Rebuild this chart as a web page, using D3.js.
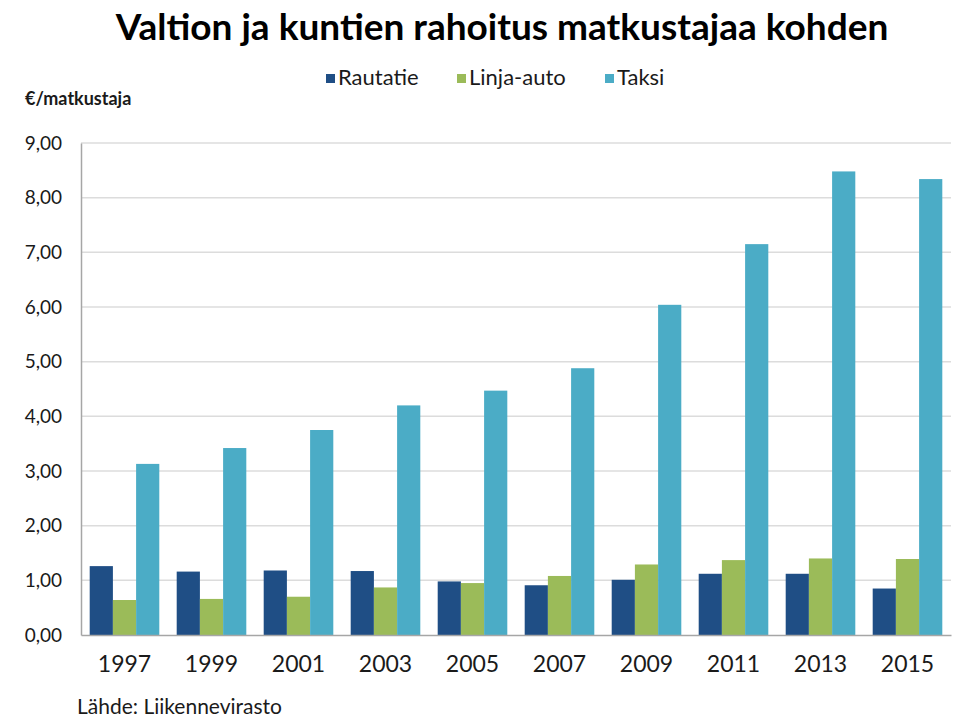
<!DOCTYPE html>
<html>
<head>
<meta charset="utf-8">
<script src="https://cdn.jsdelivr.net/npm/d3@7"></script>
<style>
  body { margin: 0; background: #fff; }
  svg text { font-family: Lato, "Open Sans", sans-serif; fill: #1a1a1a; }
</style>
</head>
<body>
<div id="chart"></div>
<script>
// data
let years = ['1997', '1999', '2001', '2003', '2005', '2007', '2009', '2011', '2013', '2015'];
let seriesNames = ['Rautatie', 'Linja-auto', 'Taksi'];
let rautatie = [1.26, 1.16, 1.18, 1.17, 0.98, 0.91, 1.01, 1.12, 1.12, 0.85];
let linjaAuto = [0.64, 0.66, 0.70, 0.87, 0.95, 1.08, 1.29, 1.37, 1.40, 1.39];
let taksi = [3.13, 3.42, 3.75, 4.20, 4.47, 4.88, 6.04, 7.15, 8.48, 8.34];
let yTicks = [0, 1, 2, 3, 4, 5, 6, 7, 8, 9];
let colors = ['#1f4e85', '#9bbb59', '#4bacc6'];

let config = {
    width: 953, height: 721,
    plot: { left: 81, right: 951, top: 143, bottom: 635 }
};

let svg = d3.select('#chart')
    .append('svg')
        .attr('width', config.width)
        .attr('height', config.height);

let table = years.map((y, i) => ({ year: y, values: [rautatie[i], linjaAuto[i], taksi[i]] }));

let x = d3.scaleBand().domain(years)
    .range([config.plot.left, config.plot.right])
    .paddingInner(0.2).paddingOuter(0.1);
let xs = d3.scaleBand().domain(seriesNames).range([0, x.bandwidth()]);
let y = d3.scaleLinear().domain([0, 9]).range([config.plot.bottom, config.plot.top]);

// gridlines
svg.append('g')
    .attr('class', 'grid')
    .selectAll('line')
    .data(yTicks.filter(d => d > 0))
    .enter().append('line')
        .attr('x1', config.plot.left)
        .attr('x2', config.plot.right)
        .attr('y1', d => y(d))
        .attr('y2', d => y(d))
        .style('stroke', '#dcdcdc')
        .style('stroke-width', 1.5);

// y axis
let yAxis = svg.append('g')
    .attr('transform', translate(config.plot.left, 0))
    .call(d3.axisLeft(y).tickValues(yTicks).tickSize(0).tickPadding(19)
        .tickFormat(d => d3.format('.2f')(d).replace('.', ',')));
yAxis.select('.domain').style('stroke', '#a6a6a6').style('stroke-width', 1.5);
yAxis.selectAll('text').style('font-size', '19px').style('font-family', 'Lato, sans-serif');

// bars
svg.append('g').selectAll('g')
    .data(table)
    .enter().append('g')
        .attr('transform', d => translate(x(d.year), 0))
    .selectAll('rect')
    .data(d => d.values.map((v, i) => ({ name: seriesNames[i], value: v, idx: i })))
    .enter().append('rect')
        .attr('x', d => xs(d.name))
        .attr('y', d => y(d.value))
        .attr('width', xs.bandwidth())
        .attr('height', d => y(0) - y(d.value))
        .style('fill', d => colors[d.idx]);

// x axis
let xAxis = svg.append('g')
    .attr('transform', translate(0, config.plot.bottom))
    .call(d3.axisBottom(x).tickSize(0).tickPadding(21));
xAxis.select('.domain').style('stroke', '#a6a6a6').style('stroke-width', 1.5);
xAxis.selectAll('text').style('font-size', '23px').style('font-family', 'Lato, sans-serif');

// title
svg.append('text')
    .attr('x', 502).attr('y', 40)
    .style('text-anchor', 'middle')
    .style('font-size', '37px')
    .style('font-weight', 'bold')
    .style('fill', '#000')
    .text('Valtion ja kuntien rahoitus matkustajaa kohden');

// legend
let legendX = [326, 457, 605];
let legend = svg.append('g').selectAll('g')
    .data(seriesNames)
    .enter().append('g')
        .attr('transform', (d, i) => translate(legendX[i], 74));
legend.append('rect')
    .attr('width', 9).attr('height', 9)
    .style('fill', (d, i) => colors[i]);
legend.append('text')
    .attr('x', 12).attr('y', 11)
    .style('font-size', '22px')
    .text(d => d);

// y axis title
svg.append('text')
    .attr('x', 25).attr('y', 105)
    .style('font-size', '18px')
    .style('font-weight', 'bold')
    .text('€/matkustaja');

// source
svg.append('text')
    .attr('x', 77).attr('y', 714)
    .style('font-size', '21px')
    .text('Lähde: Liikennevirasto');

// helper method to make translating easier
function translate(x, y) {
    return 'translate(' + x + ',' + y + ')';
}
</script>
</body>
</html>
